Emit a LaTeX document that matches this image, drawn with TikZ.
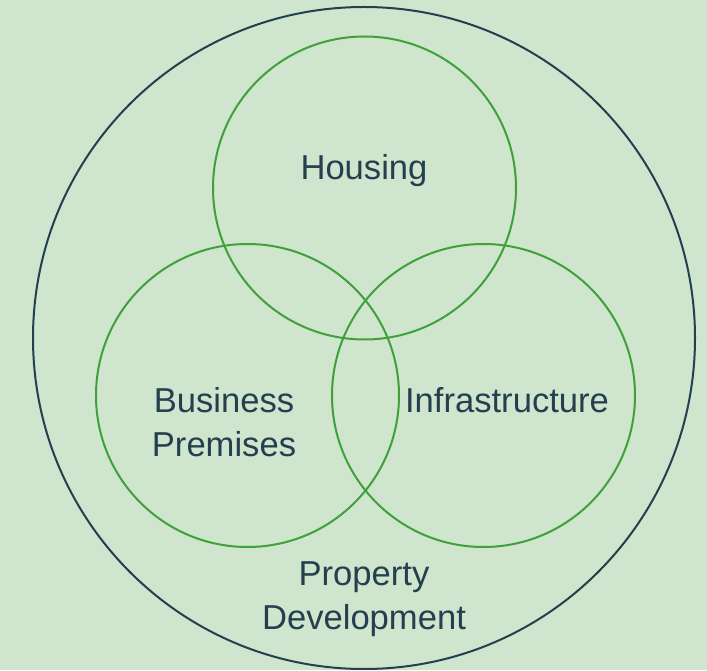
\documentclass[tikz,border=0pt]{standalone}
\usepackage{fontspec}
\setmainfont{Liberation Sans}
\definecolor{bgcol}{HTML}{CFE5CE}
\definecolor{inkcol}{HTML}{24404F}
\definecolor{setcol}{HTML}{40A03A}
\tikzset{
  setring/.style={circle,draw=setcol,line width=2pt,inner sep=0pt,minimum size=303pt},
  setname/.style={text=inkcol,align=center,font=\fontsize{34.6}{44}\selectfont}
}
\begin{document}
\begin{tikzpicture}[x=1pt,y=1pt]
           \fill[bgcol] (0,0) rectangle (707,670);
           \useasboundingbox (0,0) rectangle (707,670);
           \node[circle,draw=inkcol,line width=2pt,inner sep=0pt,minimum size=662pt] (dev) at (364,332) {};
           \node[setring] (housing) at (364.5,482) {};
           \node[setring] (business) at (247.5,274.5) {};
           \node[setring] (infra) at (483.5,274.5) {};
           \node[setname] (housinglbl) at (364,499) {Housing};
           \node[setname] (businesslbl) at (224,248) {Business\\Premises};
           \node[setname] (infralbl) at (507,270) {Infrastructure};
           \node[setname] (devlbl) at (364,71) {Property\\Development};
       \end{tikzpicture}
\end{document}
